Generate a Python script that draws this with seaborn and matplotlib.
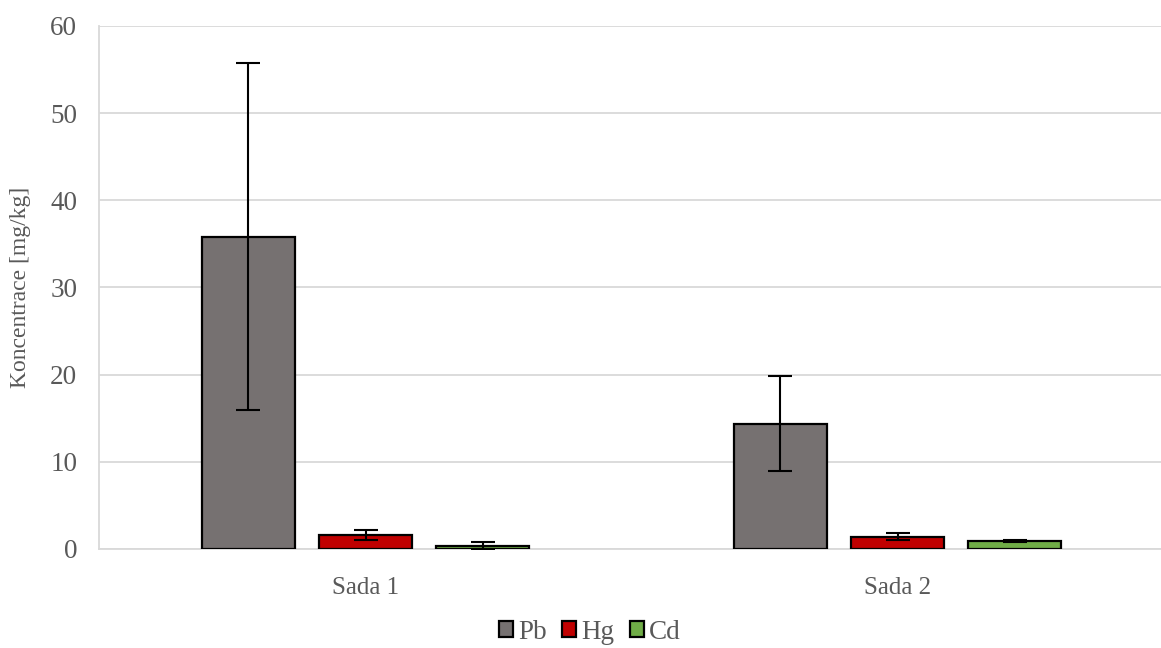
import matplotlib.pyplot as plt
import pandas as pd
import seaborn as sns

# data
sets = ["Sada 1", "Sada 2"]
metals = ["Pb", "Hg", "Cd"]
pb_mean = [35.8, 14.35]
hg_mean = [1.6, 1.4]
cd_mean = [0.38, 0.95]
pb_err = [19.9, 5.45]
hg_err = [0.6, 0.4]
cd_err = [0.4, 0.12]

colors = {"Pb": "#767171", "Hg": "#C00000", "Cd": "#70AD47"}
text_col = "#595959"
grid_col = "#D9D9D9"

sns.set_theme(style="white")
plt.rcParams["font.family"] = ["Liberation Serif", "DejaVu Serif"]

df = pd.DataFrame({
    "sada": sets * 3,
    "metal": [m for m in metals for _ in sets],
    "value": pb_mean + hg_mean + cd_mean,
    "err": pb_err + hg_err + cd_err,
})

fig = plt.figure(figsize=(11.61, 6.48), dpi=100)
ax = fig.add_axes([0.0857, 0.1528, 0.9165, 0.8072])

sns.barplot(data=df, x="sada", y="value", hue="metal", order=sets,
            hue_order=metals, palette=colors, width=0.66, gap=0.2,
            errorbar=None, edgecolor="black", linewidth=1.6, saturation=1,
            ax=ax, zorder=3)

# error bars at the centres of the drawn bars
for m, cont in zip(metals, ax.containers):
    sub = df[df["metal"] == m].set_index("sada").loc[sets]
    xs = [p.get_x() + p.get_width() / 2 for p in cont.patches]
    ax.errorbar(xs, sub["value"], yerr=sub["err"], fmt="none",
                ecolor="black", elinewidth=1.5, capsize=8.5, capthick=1.5,
                zorder=4)

ax.set_xlim(-0.5, 1.5)
ax.set_ylim(0, 60)
ax.set_yticks(range(0, 61, 10))
ax.yaxis.grid(True, color=grid_col, linewidth=1.3, zorder=0)
ax.set_axisbelow(True)
for s in ["top", "right"]:
    ax.spines[s].set_visible(False)
for s in ["left", "bottom"]:
    ax.spines[s].set_color(grid_col)
    ax.spines[s].set_linewidth(1.3)
ax.tick_params(axis="y", length=5, width=1.3, color=grid_col,
               labelsize=19.5, labelcolor=text_col, pad=11)
ax.tick_params(axis="x", length=0, labelsize=18, labelcolor=text_col, pad=20)
ax.set_xlabel("")
ax.set_ylabel("Koncentrace [mg/kg]", fontsize=17, color=text_col, labelpad=14)

ax.legend(loc="center", bbox_to_anchor=(0.461, -0.159), ncol=3,
          frameon=False, fontsize=19.5, labelcolor=text_col,
          handlelength=0.52, handleheight=0.52, handletextpad=0.2,
          columnspacing=0.55, borderpad=0)
for h in ax.get_legend().legend_handles:
    h.set_edgecolor("black")
    h.set_linewidth(1.6)

fig.savefig("out.png", dpi=100)
